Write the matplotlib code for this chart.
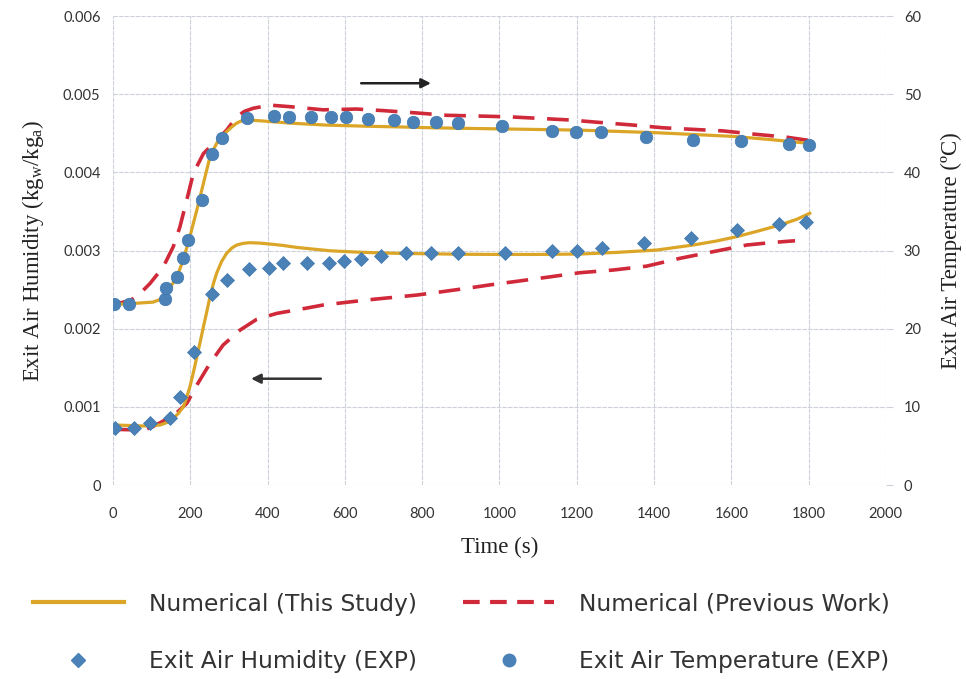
import numpy as np
import matplotlib.pyplot as plt
from matplotlib.lines import Line2D

# experimental exit air humidity (kg_w/kg_a)
t_hum_exp = [5, 55, 96, 147, 173, 210, 257, 294, 353, 404, 441, 503, 558, 598, 643, 693,
             758, 822, 893, 1014, 1135, 1202, 1265, 1374, 1495, 1614, 1723, 1794]
hum_exp = [0.000725, 0.000725, 0.000797, 0.000861, 0.001122, 0.001705, 0.002440, 0.002623,
           0.002760, 0.002780, 0.002844, 0.002844, 0.002844, 0.002866, 0.002891, 0.002930,
           0.002964, 0.002964, 0.002964, 0.002964, 0.002993, 0.002993, 0.003028, 0.003100,
           0.003164, 0.003262, 0.003339, 0.003364]

# experimental exit air temperature (C)
t_tem_exp = [3, 42, 134, 137, 165, 182, 195, 229, 257, 281, 347, 417, 456, 512, 564, 603, 661,
             727, 777, 837, 893, 1006, 1135, 1198, 1262, 1379, 1501, 1624, 1750, 1802]
tem_exp = [23.2, 23.2, 23.8, 25.2, 26.6, 29.1, 31.4, 36.5, 42.4, 44.4, 47.0, 47.2, 47.1, 47.1,
           47.1, 47.1, 46.8, 46.7, 46.5, 46.5, 46.3, 45.9, 45.3, 45.2, 45.2, 44.5, 44.1, 44.0,
           43.6, 43.5]

# numerical, this study
t_hum_num = [0, 40, 78, 122, 140, 156, 170, 182, 190, 199, 208, 217, 226, 234, 243, 251, 260,
             268, 281, 294, 307, 320, 337, 354, 380, 406, 440, 475, 518, 561, 630, 699, 760,
             828, 900, 1001, 1100, 1208, 1300, 1407, 1501, 1560, 1614, 1670, 1726, 1770, 1803]
hum_num = [0.000768, 0.000762, 0.000755, 0.000768, 0.000800, 0.000853, 0.000920, 0.001002,
           0.001110, 0.001258, 0.001440, 0.001641, 0.001840, 0.002025, 0.002225, 0.002409,
           0.002580, 0.002708, 0.002860, 0.002964, 0.003030, 0.003070, 0.003092, 0.003100,
           0.003095, 0.003083, 0.003065, 0.003040, 0.003018, 0.002997, 0.002980, 0.002968,
           0.002962, 0.002958, 0.002952, 0.002950, 0.002950, 0.002955, 0.002975, 0.003006,
           0.003070, 0.003120, 0.003177, 0.003250, 0.003326, 0.003400, 0.003476]
t_tem_num = [0, 44, 104, 130, 147, 165, 182, 199, 217, 234, 251, 268, 281, 294, 307, 320, 333,
             346, 380, 458, 550, 657, 750, 829, 950, 1080, 1208, 1300, 1407, 1500, 1605, 1700,
             1803]
tem_num = [23.1, 23.2, 23.4, 23.9, 25.2, 26.6, 28.8, 31.8, 35.2, 38.6, 42.0, 43.7, 44.6, 45.2,
           45.8, 46.3, 46.6, 46.7, 46.6, 46.3, 46.05, 45.9, 45.8, 45.7, 45.6, 45.5, 45.4, 45.25,
           45.07, 44.85, 44.6, 44.2, 43.7]

# numerical, previous work
t_hum_prev = [0, 40, 78, 100, 122, 145, 165, 191, 217, 251, 285, 329, 372, 424, 484, 544, 600,
              656, 720, 786, 850, 915, 975, 1036, 1122, 1208, 1294, 1381, 1467, 1553, 1640, 1700,
              1765]
hum_prev = [0.000712, 0.000708, 0.000704, 0.000740, 0.000797, 0.000860, 0.000925, 0.001045,
            0.001279, 0.001557, 0.001791, 0.001983, 0.002120, 0.002196, 0.002248, 0.002303,
            0.002335, 0.002367, 0.002398, 0.002430, 0.002472, 0.002516, 0.002560, 0.002600,
            0.002657, 0.002716, 0.002750, 0.002800, 0.002900, 0.002985, 0.003070, 0.003100,
            0.003125]
t_tem_prev = [0, 18, 45, 70, 96, 130, 156, 173, 191, 208, 234, 260, 294, 320, 340, 363, 406,
              458, 544, 630, 699, 786, 863, 950, 1027, 1105, 1182, 1268, 1346, 1424, 1501, 1579,
              1657, 1743, 1799]
tem_prev = [23.3, 23.3, 23.6, 24.5, 25.8, 27.9, 30.5, 33.0, 36.5, 39.9, 42.4, 43.7, 45.4, 47.1,
            47.8, 48.2, 48.6, 48.4, 48.0, 48.1, 47.9, 47.6, 47.3, 47.2, 47.1, 46.9, 46.7, 46.35,
            46.05, 45.7, 45.5, 45.3, 44.9, 44.5, 44.1]

yellow = '#dba627'
red = '#d02a3a'
blue = '#4a82b8'
tick_font = 'Lato'
serif = 'Liberation Serif'

fig = plt.figure(figsize=(9.66, 6.79), dpi=100)
ax = fig.add_axes([0.117, 0.2857, 0.8, 0.6907])
ax2 = ax.twinx()

ax.set_xlim(0, 2000)
ax.set_ylim(0, 0.006)
ax2.set_ylim(0, 60)
ax.set_xticks(np.arange(0, 2001, 200))
ax.set_yticks(np.arange(0, 0.0061, 0.001))
ax.set_yticklabels(['0', '0.001', '0.002', '0.003', '0.004', '0.005', '0.006'])
ax2.set_yticks(np.arange(0, 61, 10))

ax.grid(True, color='#cdd1da', linewidth=0.8, linestyle=(0, (4, 1)))
for a in (ax, ax2):
    for s in a.spines.values():
        s.set_visible(False)
ax.tick_params(axis='x', length=0, labelsize=10.5, pad=16, colors='#333333')
ax.tick_params(axis='y', length=0, labelsize=10.5, pad=9, colors='#333333')
ax2.tick_params(axis='y', length=5, color='#cdd1da', labelsize=10.5, pad=8, labelcolor='#333333')
for lab in ax.get_xticklabels() + ax.get_yticklabels() + ax2.get_yticklabels():
    lab.set_fontfamily(tick_font)

# humidity on left axis
ax.plot(t_hum_num, hum_num, color=yellow, lw=2.3, zorder=3)
ax.plot(t_hum_prev, hum_prev, color=red, lw=2.6, dashes=(6, 3.5), zorder=2)
ax.plot(t_hum_exp, hum_exp, 'D', color=blue, ms=7, mec='#3f76ad', mew=0.5, zorder=4)

# temperature on right axis
ax2.plot(t_tem_num, tem_num, color=yellow, lw=2.3, zorder=3)
ax2.plot(t_tem_prev, tem_prev, color=red, lw=2.6, dashes=(6, 3.5), zorder=2)
ax2.plot(t_tem_exp, tem_exp, 'o', color=blue, ms=9, mec='#3f76ad', mew=0.5, zorder=4)

# arrows showing which axis belongs to which curves
ax.annotate('', xy=(830, 0.00514), xytext=(635, 0.00514),
            arrowprops=dict(arrowstyle='-|>', color='#222222', lw=1.8, mutation_scale=14))
ax.annotate('', xy=(350, 0.00136), xytext=(545, 0.00136),
            arrowprops=dict(arrowstyle='-|>', color='#333333', lw=1.8, mutation_scale=14))

ax.set_xlabel('Time (s)', fontfamily=serif, fontsize=16.5, labelpad=11, color='#222222')
ax.set_ylabel('Exit Air Humidity (kg$_\\mathregular{w}$/kg$_\\mathregular{a}$)', fontfamily=serif,
              fontsize=16.5, labelpad=12, color='#222222')
ax2.set_ylabel('Exit Air Temperature (\u00baC)', fontfamily=serif, fontsize=16.5, labelpad=14,
               color='#222222')

handles = [Line2D([], [], color=yellow, lw=3),
           Line2D([], [], color=red, lw=3, dashes=(4, 2.5)),
           Line2D([], [], ls='', marker='D', color=blue, ms=7),
           Line2D([], [], ls='', marker='o', color=blue, ms=9)]
labels = ['Numerical (This Study)', 'Numerical (Previous Work)',
          'Exit Air Humidity (EXP)', 'Exit Air Temperature (EXP)']
order = [0, 2, 1, 3]
fig.legend([handles[i] for i in order], [labels[i] for i in order], ncol=2,
           loc='lower left', bbox_to_anchor=(0.012, -0.022), frameon=False,
           prop={'family': 'DejaVu Sans', 'size': 16.8}, handlelength=3.9, handletextpad=1.07,
           columnspacing=2.0, labelspacing=1.47, labelcolor='#333333')

fig.savefig('out.png', dpi=100)
